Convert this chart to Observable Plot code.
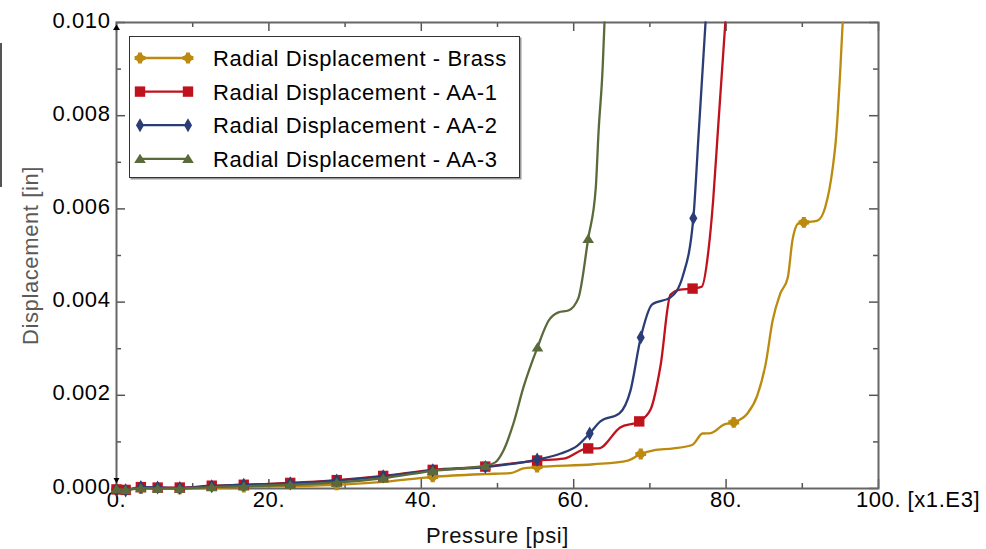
<!DOCTYPE html>
<html><head><meta charset="utf-8">
<script src="https://cdn.jsdelivr.net/npm/d3@7"></script>
<script src="https://cdn.jsdelivr.net/npm/@observablehq/plot@0.6"></script>
<style>
html,body{margin:0;padding:0;background:#fff;}
#wrap{position:relative;width:986px;height:549px;font-family:"Liberation Sans",Arial,sans-serif;overflow:hidden;}
#legend{position:absolute;left:129px;top:36px;width:391px;height:142px;box-sizing:border-box;border:1.5px solid #333;background:#fff;box-shadow:1.5px 1.5px 0 #999;}
#artifact{position:absolute;left:0;top:43px;width:2px;height:144px;background:#555;}
</style></head><body><div id="wrap"><div id="artifact"></div></div>
<script>
// ---- data (pressure in ksi [x1.E3 psi], displacement in inches) ----
const seriesNames = ["Radial Displacement - Brass","Radial Displacement - AA-1","Radial Displacement - AA-2","Radial Displacement - AA-3"];
const seriesColors = ["#bb8a0e","#c0121d","#2b3d77","#5a6a3b"];

const brass = [[0,-0.00002],[1.2,-0.00003],[3.2,0.0],[5.4,0.0],[8.3,-0.00001],[12.5,0.00001],[16.7,0.00003],[22.8,0.00005],[28.9,0.00008],[35.0,0.00014],[41.5,0.00025],[48.4,0.00031],[51.7,0.00033],[53.4,0.00043],[55.2,0.00046],[62.6,0.00052],[67.1,0.0006],[68.8,0.00074],[70.5,0.00082],[73.1,0.00086],[75.6,0.00094],[76.9,0.00118],[78.0,0.00119],[79.7,0.00137],[81.0,0.00142],[82.8,0.00161],[84.1,0.002],[85.2,0.00268],[86.1,0.0036],[87.1,0.00418],[88.1,0.00453],[88.7,0.00532],[89.5,0.00569],[90.2,0.00571],[92.0,0.00575],[93.0,0.00603],[94.0,0.00689],[94.4,0.00747],[95.0,0.00903],[95.3,0.0100]];
const aa1 = [[0,-0.00002],[1.2,-0.00003],[3.2,0.00003],[5.4,0.00002],[8.3,0.00002],[12.5,0.00006],[16.7,0.00008],[22.8,0.00012],[28.9,0.00018],[35.0,0.00027],[41.5,0.0004],[48.4,0.00047],[55.2,0.0006],[58.7,0.00064],[61.9,0.00086],[63.25,0.00086],[66.1,0.00131],[68.6,0.00144],[70.1,0.0017],[71.4,0.00264],[72.7,0.00416],[74.0,0.00427],[75.6,0.00429],[76.8,0.00433],[77.7,0.00513],[78.3,0.00618],[78.9,0.00762],[79.9,0.0100]];
const aa2 = [[0,-0.00003],[1.2,-0.00004],[3.2,0.00003],[5.4,0.00002],[8.3,0.00001],[12.5,0.00005],[16.7,0.00008],[22.8,0.00011],[28.9,0.00017],[35.0,0.00026],[41.5,0.00039],[48.4,0.00046],[55.2,0.00062],[58.3,0.00075],[60.5,0.00092],[62.1,0.00118],[63.5,0.00144],[66.0,0.00161],[67.45,0.0021],[68.8,0.00324],[70.3,0.00395],[72.7,0.0041],[74.3,0.00455],[75.7,0.0058],[76.4,0.00762],[77.3,0.0100]];
const aa3 = [[0,-0.00001],[1.2,-0.00003],[3.2,0.00001],[5.4,0.0],[8.3,0.0],[12.5,0.00003],[16.7,0.00005],[22.8,0.00008],[28.9,0.00013],[35.0,0.00022],[41.5,0.00038],[48.4,0.00049],[49.7,0.00056],[50.8,0.00082],[52.1,0.0014],[53.4,0.00217],[55.25,0.00303],[56.7,0.0036],[58.0,0.00378],[59.3,0.00382],[60.6,0.00408],[61.9,0.00536],[62.9,0.00646],[63.25,0.00762],[63.8,0.00903],[64.04,0.0100]];

// pressures at which markers are drawn
const brassMarks = [0,3.2,8.3,16.7,28.9,41.5,55.2,68.8,81.0,90.2];
const aa1Marks = [0,1.2,3.2,5.4,8.3,12.5,16.7,22.8,28.9,35.0,41.5,48.4,55.2,61.9,68.6,75.6];
const aa2Marks = [0,1.2,3.2,5.4,8.3,12.5,16.7,22.8,28.9,35.0,41.5,48.4,55.2,62.1,68.8,75.7];
const aa3Marks = [0,1.2,3.2,5.4,8.3,12.5,16.7,22.8,28.9,35.0,41.5,48.4,55.25,61.9];

const xMajor = [0,20,40,60,80,100];
const xMinor = [10,30,50,70,90];
const yMajor = [0,0.002,0.004,0.006,0.008,0.010];
const yMinor = [0.001,0.003,0.005,0.007,0.009];
const xUnitLabel = "[x1.E3]";
const xTitle = "Pressure [psi]";
const yTitle = "Displacement [in]";

// ---- symbols ----
const symBrass = {draw(c, size){ const r=Math.sqrt(size/Math.PI); const a=r, w=r*0.38, cr=r*0.8;
  c.moveTo(cr,0); c.arc(0,0,cr,0,2*Math.PI); c.closePath();
  c.moveTo(-w,-a); c.lineTo(w,-a); c.lineTo(w,-w); c.lineTo(a,-w); c.lineTo(a,w); c.lineTo(w,w); c.lineTo(w,a); c.lineTo(-w,a); c.lineTo(-w,w); c.lineTo(-a,w); c.lineTo(-a,-w); c.lineTo(-w,-w); c.closePath(); }};
const symSquare = {draw(c,size){ const r=Math.sqrt(size/Math.PI); c.rect(-r,-r,2*r,2*r); }};
const symDiamond = {draw(c,size){ const r=Math.sqrt(size/Math.PI); c.moveTo(0,-r*1.3); c.lineTo(r*0.75,0); c.lineTo(0,r*1.3); c.lineTo(-r*0.75,0); c.closePath(); }};
const symTri = {draw(c,size){ const r=Math.sqrt(size/Math.PI); c.moveTo(0,-r*0.95); c.lineTo(r*1.1,r*0.8); c.lineTo(-r*1.1,r*0.8); c.closePath(); }};
const symTriDown = {draw(c,size){ const r=Math.sqrt(size/Math.PI); c.moveTo(0,r*0.9); c.lineTo(r,-r*0.8); c.lineTo(-r,-r*0.8); c.closePath(); }};

const seriesData = [brass, aa1, aa2, aa3];
const seriesMarks = [brassMarks, aa1Marks, aa2Marks, aa3Marks];
const seriesSyms = [symBrass, symSquare, symDiamond, symTri];
const seriesR = [5.4, 5.2, 5.4, 5.3];

// ---- layout ----
const W=986, H=549, mL=116, mR=108, mT=22, mB=61;
const fw=W-mL-mR, fh=H-mT-mB;
const majorLen=9, minorLen=5;
const axisColor="#555";
const fontFam="'Liberation Sans', Arial, sans-serif";

const seriesMarksList = seriesData.flatMap((pts, i) => [
  Plot.line(pts, {x:d=>d[0], y:d=>d[1], stroke:seriesColors[i], strokeWidth:2.3, curve:"monotone-x"}),
  Plot.dot(pts.filter(d => seriesMarks[i].includes(d[0])), {x:d=>d[0], y:d=>d[1], fill:seriesColors[i], stroke:"none", symbol:seriesSyms[i], r:seriesR[i]})
]);

const chart = Plot.plot({
  width:W, height:H, marginLeft:mL, marginRight:mR, marginTop:mT, marginBottom:mB,
  style:{fontFamily:fontFam, fontSize:"22px", color:"#000", background:"#fff", letterSpacing:"0.6px", overflow:"visible"},
  x:{domain:[0,100]},
  y:{domain:[0,0.01]},
  marks:[
    // inward ticks on all four sides
    Plot.tickX(xMajor, {x:d=>d, insetTop:fh-majorLen, stroke:axisColor, strokeWidth:1.5}),
    Plot.tickX(xMinor, {x:d=>d, insetTop:fh-minorLen, stroke:axisColor, strokeWidth:1.5}),
    Plot.tickX(xMajor, {x:d=>d, insetBottom:fh-majorLen, stroke:axisColor, strokeWidth:1.5}),
    Plot.tickX(xMinor, {x:d=>d, insetBottom:fh-minorLen, stroke:axisColor, strokeWidth:1.5}),
    Plot.tickY(yMajor, {y:d=>d, insetRight:fw-majorLen, stroke:axisColor, strokeWidth:1.5}),
    Plot.tickY(yMinor, {y:d=>d, insetRight:fw-minorLen, stroke:axisColor, strokeWidth:1.5}),
    Plot.tickY(yMajor, {y:d=>d, insetLeft:fw-majorLen, stroke:axisColor, strokeWidth:1.5}),
    Plot.tickY(yMinor, {y:d=>d, insetLeft:fw-minorLen, stroke:axisColor, strokeWidth:1.5}),
    Plot.frame({stroke:"#666", strokeWidth:2}),
    Plot.axisX({ticks:xMajor, tickSize:0, tickPadding:3, tickFormat:d=>d+".", label:null, fill:"#000"}),
    Plot.axisY({ticks:yMajor, tickSize:0, tickPadding:6, tickFormat:d=>d.toFixed(3), label:null, fill:"#000", dy:-2}),
    Plot.text([xUnitLabel], {x:()=>xMajor[xMajor.length-1], frameAnchor:"bottom", text:d=>d, textAnchor:"start", lineAnchor:"top", dx:29, dy:3, fill:"#000"}),
    Plot.text([xTitle], {frameAnchor:"bottom", text:d=>d, textAnchor:"middle", lineAnchor:"middle", dy:47, fill:"#111"}),
    Plot.text([yTitle], {frameAnchor:"left", text:d=>d, textAnchor:"middle", rotate:-90, lineAnchor:"middle", dx:-86, fill:"#5a5a5a"}),
    ...seriesMarksList,
    // axis end arrows
    Plot.dot([yMajor[yMajor.length-1]], {x:()=>0, y:d=>d, symbol:symTri, r:3.2, fill:"#000", dy:5}),
    Plot.dot([yMajor[0]], {x:()=>0, y:d=>d, symbol:symTriDown, r:3, fill:"#000", dy:-8})
  ]
});
const wrap = document.getElementById("wrap");
wrap.appendChild(chart);

// ---- legend ----
const leg = d3.select(wrap).append("div").attr("id","legend");
const svg = leg.append("svg").attr("width",388).attr("height",139).style("display","block");
seriesNames.forEach((name, i) => {
  const y = 21 + i*33.6;
  const g = svg.append("g");
  g.append("line").attr("x1",10).attr("x2",58).attr("y1",y).attr("y2",y).attr("stroke",seriesColors[i]).attr("stroke-width",2.3);
  const sym = d3.symbol().type(seriesSyms[i]).size(Math.PI*seriesR[i]*seriesR[i]);
  [10,58].forEach(x => g.append("path").attr("d", sym()).attr("transform",`translate(${x},${y})`).attr("fill",seriesColors[i]));
  g.append("text").attr("x",83).attr("y",y+8).text(name)
    .style("font-family",fontFam).style("font-size","22px").style("letter-spacing","0.6px").attr("fill","#000");
});
</script>
</body></html>
